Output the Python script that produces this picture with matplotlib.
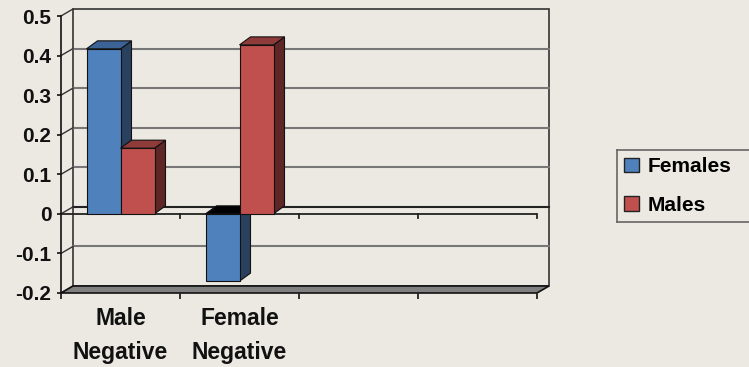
import numpy as np
import matplotlib
matplotlib.use("Agg")
import matplotlib.pyplot as plt
from matplotlib.patches import Polygon, Rectangle, Patch
from matplotlib.lines import Line2D

plt.rcParams['font.family'] = ['Liberation Sans', 'DejaVu Sans']
plt.rcParams['font.weight'] = 'bold'

# data
categories = ['Male\nNegative', 'Female\nNegative']
n_slots = 4
females = [0.417, -0.170]
males = [0.166, 0.427]
yticks = [-0.2, -0.1, 0, 0.1, 0.2, 0.3, 0.4, 0.5]

bg = '#ECE9E2'
blue = ('#4F81BD', '#3B6396', '#29405F')   # front, top, side
red = ('#C0504D', '#8F3B39', '#5E2625')

fig = plt.figure(figsize=(7.49, 3.67), dpi=100, facecolor=bg)
ax = fig.add_axes([61 / 749, 1 - 293 / 367, 476 / 749, 277 / 367])
ax.set_facecolor('none')
ax.set_xlim(0, n_slots)
ax.set_ylim(yticks[0], yticks[-1])
fig.canvas.draw()


def px(dx, dy):
    inv = ax.transData.inverted()
    a = inv.transform((0, 0))
    b = inv.transform((dx, dy))
    return b[0] - a[0], b[1] - a[1]


wdx, wdy = px(12, 7)   # depth of the walls
bdx, bdy = px(11, 8)   # depth of the bars
ymin, ymax = yticks[0], yticks[-1]

# back wall and gridlines
ax.add_patch(Rectangle((wdx, ymin + wdy), n_slots, ymax - ymin, facecolor=bg,
                       edgecolor='#333333', lw=1.2, clip_on=False, zorder=0))
for t in yticks[1:-1]:
    col = '#222222' if t == 0 else '#777777'
    ax.plot([wdx, n_slots + wdx], [t + wdy, t + wdy], color=col, lw=1.5,
            clip_on=False, zorder=1)
# side wall diagonals
for t in yticks:
    ax.plot([0, wdx], [t, t + wdy], color='#333333', lw=1, clip_on=False, zorder=1)

# floor
ax.add_patch(Polygon([(0, ymin), (n_slots, ymin), (n_slots + wdx, ymin + wdy),
                      (wdx, ymin + wdy)], closed=True, facecolor='#808080',
                     edgecolor='#111111', lw=1.2, clip_on=False, zorder=1))

# zero line with category ticks
ax.plot([0, n_slots], [0, 0], color='#222222', lw=1.3, zorder=1)
_, tk = px(0, -4)
for b in range(1, n_slots + 1):
    ax.plot([b, b], [0, tk], color='#222222', lw=1.3, clip_on=False, zorder=1)

# bars
w = 1 / 3.5
centers = np.arange(len(categories)) + 0.5
z = 3
for vals, offs, cols in [(females, -w / 2, blue), (males, w / 2, red)]:
    xs = centers + offs
    for x, v in zip(xs, vals):
        x0, x1 = x - w / 2, x + w / 2
        top = max(v, 0)
        side = Polygon([(x1, 0), (x1, v), (x1 + bdx, v + bdy), (x1 + bdx, bdy)],
                       closed=True, facecolor=cols[2], edgecolor='#111111',
                       lw=0.8, zorder=z)
        topcol = cols[1] if v >= 0 else '#000000'
        lid = Polygon([(x0, top), (x1, top), (x1 + bdx, top + bdy), (x0 + bdx, top + bdy)],
                      closed=True, facecolor=topcol, edgecolor='#111111',
                      lw=0.8, zorder=z)
        ax.add_patch(side)
        ax.add_patch(lid)
    ax.bar(xs, vals, width=w, color=cols[0], edgecolor='#111111', lw=0.8, zorder=z + 1)
    z += 2

# axes styling
for s in ['top', 'right']:
    ax.spines[s].set_visible(False)
ax.spines['left'].set_color('#111111')
ax.spines['left'].set_linewidth(1.2)
ax.spines['bottom'].set_visible(False)

ax.set_yticks(yticks)
ax.set_yticklabels(['0' if t == 0 else f'{t:.1f}' for t in yticks])
ax.tick_params(axis='y', length=3, width=1.2, pad=4, labelsize=15, colors='#111111')

ax.set_xticks(centers)
ax.set_xticklabels(categories, fontsize=16.5, linespacing=1.6)
ax.set_xticks(np.arange(0, n_slots + 1), minor=True)
ax.tick_params(axis='x', which='major', length=0, pad=10, colors='#111111')
ax.tick_params(axis='x', which='minor', length=4, width=1.3, colors='#222222')

handles = [Patch(facecolor=blue[0], edgecolor='#222222', label='Females'),
           Patch(facecolor=red[0], edgecolor='#222222', label='Males')]
leg = fig.legend(handles=handles, loc='upper left',
                 bbox_to_anchor=(617 / 749, 1 - 150 / 367),
                 borderaxespad=0, fontsize=15, handlelength=0.72,
                 handleheight=0.72, handletextpad=0.4, labelspacing=0.95,
                 borderpad=0.35, frameon=False)

# legend box is open on the right: top and bottom run off the figure edge
fig.canvas.draw()
bb = leg.get_window_extent()
W, H = fig.bbox.width, fig.bbox.height
lx, ly0, ly1 = bb.x0 / W, bb.y0 / H, bb.y1 / H
for yy in (ly0, ly1):
    fig.add_artist(Line2D([lx, 1.2], [yy, yy], transform=fig.transFigure,
                          color='#666666', lw=1.2))
fig.add_artist(Line2D([lx, lx], [ly0, ly1], transform=fig.transFigure,
                      color='#666666', lw=1.2))

fig.savefig('out.png', dpi=100, facecolor=bg)
